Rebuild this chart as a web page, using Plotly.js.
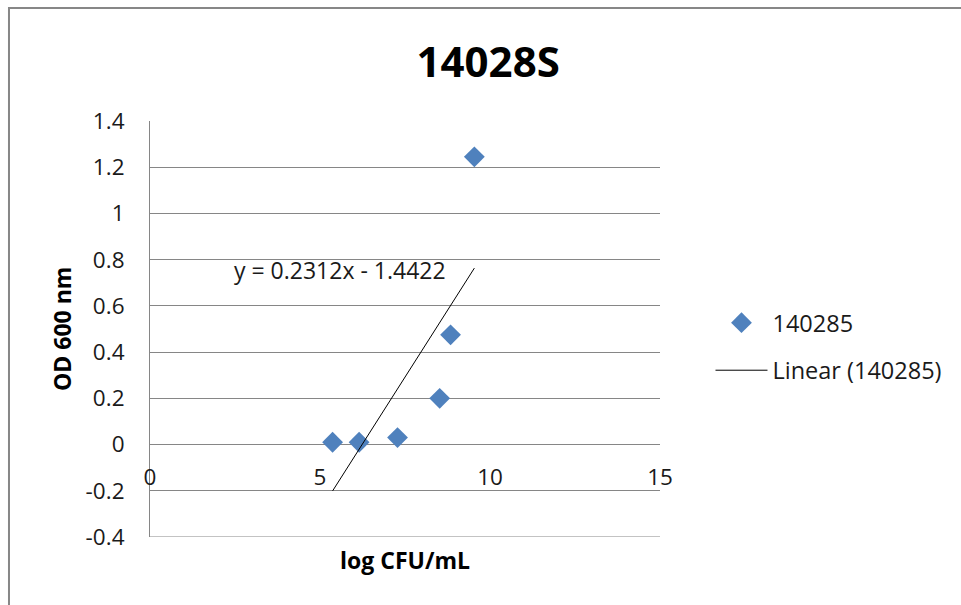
<!DOCTYPE html>
<html>
<head>
<meta charset="utf-8">
<script src="https://cdn.plot.ly/plotly-3.0.1.min.js"></script>
<style>html,body{margin:0;padding:0;background:#fff;}#chart{width:961px;height:605px;}</style>
</head>
<body>
<div id="chart"></div>
<script>
// Data
const seriesName = "140285";
const logCFU = [5.37, 6.15, 7.28, 8.52, 8.84, 9.54];
const od600 = [0.01, 0.01, 0.03, 0.2, 0.475, 1.245];
// Trendline coefficients as shown on the chart
const trendSlope = [0.2312];
const trendIntercept = [-1.4422];
const trendLabel = "y = 0.2312x - 1.4422";
const trendName = "Linear (140285)";
// Axis ticks
const xTickVals = [0, 5, 10, 15];
const xTickText = ["0", "5", "10", "15"];
const yTickVals = [-0.4, -0.2, 0, 0.2, 0.4, 0.6, 0.8, 1, 1.2, 1.4];
const yTickText = ["-0.4", "-0.2", "0", "0.2", "0.4", "0.6", "0.8", "1", "1.2", "1.4"];
const chartTitle = "14028S";
const xTitle = "log CFU/mL";
const yTitle = "OD 600 nm";

const xMin = Math.min(...logCFU), xMax = Math.max(...logCFU);
const trendX = [xMin, xMax];
const trendY = trendX.map(v => trendSlope[0] * v + trendIntercept[0]);

const FONT = "'Open Sans', 'Noto Sans', sans-serif";
const TXT = "#1a1a1a";
const GRID = "#868686";

const traces = [
  {
    x: logCFU, y: od600, type: "scatter", mode: "markers", name: seriesName,
    legendgroup: "a",
    marker: { symbol: "diamond", size: 16, color: "#4F81BD" }
  },
  {
    x: trendX, y: trendY, type: "scatter", mode: "lines", name: trendName,
    legendgroup: "b",
    line: { color: "#000000", width: 1 }
  }
];

// plot area: x 150..660, y 121..537
const layout = {
  width: 961, height: 605,
  margin: { l: 150, r: 301, t: 121, b: 68, pad: 0 },
  paper_bgcolor: "#ffffff", plot_bgcolor: "#ffffff",
  font: { family: FONT, color: TXT, size: 22 },
  title: {
    text: chartTitle,
    font: { family: FONT, size: 42, color: "#000", weight: 700 },
    xref: "container", yref: "container", x: 0.508, y: 0.897, xanchor: "center", yanchor: "middle"
  },
  showlegend: true,
  legend: {
    x: 1.099, y: 0.457, xanchor: "left", yanchor: "middle",
    font: { family: FONT, size: 23.5, color: TXT },
    traceorder: "grouped", tracegroupgap: 14, itemwidth: 52,
    bgcolor: "rgba(0,0,0,0)"
  },
  xaxis: {
    range: [0, 15], tickvals: xTickVals, ticktext: xTickText,
    showgrid: false, zeroline: false, showline: false, ticks: "",
    anchor: "free", position: 0.2222, ticklabelstandoff: 17,
    tickfont: { family: FONT, size: 22.5, color: TXT },
    fixedrange: true
  },
  yaxis: {
    range: [-0.4, 1.4], tickvals: yTickVals, ticktext: yTickText,
    showgrid: true, gridcolor: GRID, gridwidth: 1, zeroline: false,
    showline: true, linecolor: GRID, linewidth: 1, ticks: "",
    ticklabelstandoff: 20,
    tickfont: { family: FONT, size: 22.5, color: TXT },
    fixedrange: true
  },
  annotations: [
    { text: trendLabel, xref: "x", yref: "y", x: 5.59, y: 0.755, showarrow: false,
      xanchor: "center", yanchor: "middle", font: { family: FONT, size: 23, color: TXT } },
    { text: "<b>" + xTitle + "</b>", xref: "paper", yref: "paper", x: 0.5, y: -0.0545,
      showarrow: false, xanchor: "center", yanchor: "middle", font: { family: FONT, size: 23, color: "#000" } },
    { text: "<b>" + yTitle + "</b>", xref: "paper", yref: "paper", x: -0.1725, y: 0.5,
      textangle: -90, showarrow: false, xanchor: "center", yanchor: "middle", font: { family: FONT, size: 23, color: "#000" } }
  ],
  shapes: [
    { type: "line", xref: "paper", yref: "y", x0: 0, x1: 1, y0: -0.4, y1: -0.4,
      line: { color: GRID, width: 1 } },
    { type: "path", xref: "paper", yref: "paper",
      path: "M -0.2765,-0.2 L -0.2765,1.2716 L 1.62,1.2716",
      line: { color: "#878787", width: 2 } }
  ]
};

Plotly.newPlot("chart", traces, layout, { displayModeBar: false, staticPlot: true });
</script>
</body>
</html>
